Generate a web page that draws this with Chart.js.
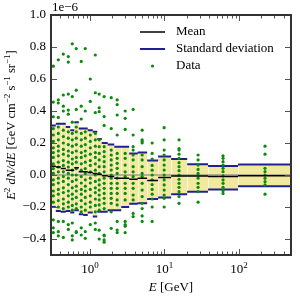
<!DOCTYPE html>
<html>
<head>
<meta charset="utf-8">
<script src="https://cdn.jsdelivr.net/npm/chart.js@4/dist/chart.umd.min.js"></script>
<style>
  html, body { margin: 0; padding: 0; background: #fff; }
  canvas { display: block; }
</style>
</head>
<body>
<canvas id="chart" width="300" height="300"></canvas>
<script>
// energy bins [GeV], flux values are in units of 1e-6
const binEdges = [0.3, 0.348, 0.406, 0.474, 0.544, 0.616, 0.708, 0.813, 0.934, 1.09, 1.253,
  1.44, 1.73, 2.12, 2.63, 3.36, 4.37, 5.86, 8.23, 12.3, 20.2, 38.5, 97.3, 500];
const binMean = [0.055, 0.05, 0.04, 0.03, 0.03, 0.045, 0.02, 0.02, 0.015, 0.01, 0.005,
  -0.005, -0.01, -0.02, -0.02, -0.027, -0.02, -0.035, -0.015, -0.006, -0.006, -0.01, -0.004];
const binUpper = [0.31, 0.32, 0.32, 0.30, 0.28, 0.33, 0.29, 0.29, 0.28, 0.27, 0.225,
  0.20, 0.19, 0.177, 0.177, 0.135, 0.14, 0.09, 0.115, 0.10, 0.067, 0.056, 0.065];
const binLower = [-0.20, -0.225, -0.23, -0.225, -0.235, -0.22, -0.245, -0.25, -0.235, -0.26, -0.23,
  -0.23, -0.22, -0.22, -0.20, -0.18, -0.177, -0.15, -0.14, -0.12, -0.105, -0.09, -0.07];

const dataEnergy = [0.322, 0.376, 0.439, 0.512, 0.579, 0.655, 0.764, 0.865, 1.01, 1.18, 1.33,
  1.55, 1.93, 2.32, 2.97, 3.80, 5.02, 6.84, 9.91, 15.7, 28.3, 61.2, 224];
const dataFlux = [
  [0.68, 0.456, 0.364, 0.29, 0.25, 0.21, 0.17, 0.14, 0.11, 0.07, 0.04, 0.01, -0.03, -0.06, -0.1, -0.13, -0.17, -0.28, -0.33, -0.36],
  [0.72, 0.47, 0.45, 0.36, 0.3, 0.26, 0.22, 0.18, 0.15, 0.12, 0.08, 0.05, 0.02, -0.02, -0.05, -0.09, -0.12, -0.16, -0.2, -0.29, -0.354, -0.38],
  [0.756, 0.5, 0.43, 0.40, 0.28, 0.24, 0.2, 0.16, 0.13, 0.09, 0.06, 0.02, -0.01, -0.04, -0.08, -0.11, -0.15, -0.18, -0.21, -0.29, -0.39],
  [0.74, 0.706, 0.506, 0.406, 0.38, 0.27, 0.23, 0.19, 0.15, 0.12, 0.08, 0.05, 0.01, -0.02, -0.06, -0.1, -0.13, -0.17, -0.2, -0.31, -0.34],
  [0.82, 0.49, 0.33, 0.26, 0.22, 0.18, 0.14, 0.1, 0.07, 0.03, 0.0, -0.04, -0.08, -0.12, -0.15, -0.19, -0.22, -0.3, -0.38, -0.406],
  [0.79, 0.53, 0.41, 0.3, 0.27, 0.23, 0.19, 0.15, 0.11, 0.08, 0.04, 0.0, -0.03, -0.07, -0.1, -0.14, -0.18, -0.21, -0.354, -0.36],
  [0.71, 0.43, 0.35, 0.26, 0.22, 0.18, 0.14, 0.11, 0.07, 0.03, -0.01, -0.05, -0.09, -0.12, -0.16, -0.2, -0.23, -0.33, -0.375],
  [0.79, 0.4, 0.27, 0.23, 0.19, 0.15, 0.12, 0.08, 0.04, 0.01, -0.03, -0.07, -0.1, -0.14, -0.18, -0.22, -0.354, -0.396],
  [0.60, 0.46, 0.25, 0.21, 0.17, 0.13, 0.09, 0.06, 0.02, -0.02, -0.05, -0.09, -0.13, -0.17, -0.2, -0.31],
  [0.75, 0.514, 0.39, 0.26, 0.22, 0.18, 0.14, 0.11, 0.07, 0.03, 0.0, -0.04, -0.08, -0.11, -0.15, -0.19, -0.23, -0.3, -0.34],
  [0.506, 0.42, 0.396, 0.22, 0.177, 0.135, 0.094, 0.052, 0.01, -0.031, -0.062, -0.094, -0.125, -0.156, -0.187, -0.22, -0.345, -0.40],
  [0.49, 0.365, 0.31, 0.177, 0.146, 0.115, 0.083, 0.052, 0.02, -0.02, -0.052, -0.083, -0.115, -0.146, -0.177, -0.21, -0.375, -0.38, -0.406, -0.42],
  [0.483, 0.29, 0.156, 0.125, 0.094, 0.062, 0.031, 0.0, -0.02, -0.052, -0.083, -0.115, -0.146, -0.177, -0.23, -0.333],
  [0.47, 0.44, 0.375, 0.25, 0.135, 0.104, 0.073, 0.042, 0.01, -0.02, -0.052, -0.083, -0.115, -0.156, -0.187, -0.29, -0.344, -0.36],
  [0.40, 0.354, 0.285, 0.135, 0.104, 0.062, 0.02, -0.01, -0.052, -0.083, -0.115, -0.156, -0.29, -0.31, -0.32, -0.36],
  [0.41, 0.25, 0.177, 0.156, 0.125, 0.094, 0.052, 0.02, -0.01, -0.052, -0.083, -0.125, -0.156, -0.24, -0.26],
  [0.28, 0.22, 0.21, 0.2, 0.125, 0.094, 0.052, 0.01, -0.01, -0.052, -0.094, -0.135, -0.177, -0.21, -0.256, -0.29],
  [0.2, 0.135, 0.1, 0.06, 0.03, 0.0, -0.03, -0.06, -0.09, -0.12, -0.15, -0.2, -0.29],
  [0.296, 0.22, 0.156, 0.125, 0.094, 0.062, 0.031, 0.0, -0.031, -0.062, -0.094, -0.125, -0.146, -0.2],
  [0.22, 0.165, 0.156, 0.13, 0.104, 0.077, 0.052, 0.027, 0.0, -0.027, -0.052, -0.077, -0.104, -0.135, -0.177],
  [0.125, 0.094, 0.062, 0.035, 0.01, -0.02, -0.052, -0.077, -0.104, -0.17],
  [0.12, 0.104, 0.083, 0.062, 0.042, 0.021, -0.006, -0.031, -0.052, -0.077, -0.098, -0.115],
  [0.18, 0.13, 0.042, 0.021, 0.0, -0.021, -0.042, -0.062, -0.12]
];

const xDecades = [1, 10, 100];
const xLimits = [0.3, 500];
const yLimits = [-0.5, 1.0];

const FONT = "'Liberation Serif', 'DejaVu Serif', serif";
const BLUE = '#202090';
const GREEN = '#0b8a0b';

// build step datasets from the bins
const bandTop = [], bandBottom = [], upperSeg = [], lowerSeg = [], meanSeg = [];
binMean.forEach((m, i) => {
  const lo = binEdges[i], hi = binEdges[i + 1];
  bandTop.push({ x: lo, y: binUpper[i] }, { x: hi, y: binUpper[i] });
  bandBottom.push({ x: lo, y: binLower[i] }, { x: hi, y: binLower[i] });
  upperSeg.push({ x: lo, y: binUpper[i] }, { x: hi, y: binUpper[i] }, { x: hi, y: null });
  lowerSeg.push({ x: lo, y: binLower[i] }, { x: hi, y: binLower[i] }, { x: hi, y: null });
  meanSeg.push({ x: lo, y: m }, { x: hi, y: m }, { x: hi, y: null });
});
const points = dataEnergy.flatMap((e, i) => dataFlux[i].map(f => ({ x: e, y: f })));

function partFont(kind, size) {
  const s = kind === 's' ? Math.round(size * 0.7) : size;
  return (kind === 'i' ? 'italic ' : '') + s + 'px ' + FONT;
}
function richWidth(ctx, parts, size) {
  let w = 0;
  parts.forEach(([t, k]) => { ctx.font = partFont(k, size); w += ctx.measureText(t).width; });
  return w;
}
function drawRich(ctx, parts, x, y, size) {
  let cx = x;
  parts.forEach(([t, k]) => {
    ctx.font = partFont(k, size);
    ctx.fillText(t, cx, k === 's' ? y - size * 0.42 : y);
    cx += ctx.measureText(t).width;
  });
}

const decorations = {
  id: 'decorations',
  beforeDatasetsDraw(chart) {
    // pale edges between the bars of the band
    const { ctx } = chart;
    const xs = chart.scales.x, ys = chart.scales.y;
    ctx.save();
    ctx.strokeStyle = 'rgba(255,255,255,0.6)';
    ctx.lineWidth = 1;
    for (let i = 1; i < binMean.length; i++) {
      const px = Math.round(xs.getPixelForValue(binEdges[i])) + 0.5;
      ctx.beginPath();
      ctx.moveTo(px, ys.getPixelForValue(Math.min(binUpper[i - 1], binUpper[i])));
      ctx.lineTo(px, ys.getPixelForValue(Math.max(binLower[i - 1], binLower[i])));
      ctx.stroke();
    }
    ctx.restore();
  },
  afterDraw(chart) {
    const { ctx, chartArea: a } = chart;
    const xs = chart.scales.x, ys = chart.scales.y;
    ctx.save();
    ctx.fillStyle = '#000';
    ctx.textBaseline = 'alphabetic';

    // inward tick marks on all four sides
    ctx.strokeStyle = '#555';
    ctx.lineWidth = 1;
    const tick = (x1, y1, x2, y2) => { ctx.beginPath(); ctx.moveTo(x1, y1); ctx.lineTo(x2, y2); ctx.stroke(); };
    for (let k = -1; k <= 2; k++) {
      for (let m = 1; m <= 9; m++) {
        const v = m * Math.pow(10, k);
        if (v < xLimits[0] || v > xLimits[1]) continue;
        const px = Math.round(xs.getPixelForValue(v)) + 0.5;
        const len = m === 1 ? 6 : 3.5;
        tick(px, a.bottom, px, a.bottom - len);
        tick(px, a.top, px, a.top + len);
      }
    }
    ys.ticks.forEach(t => {
      if (Math.abs(t.value / 0.2 - Math.round(t.value / 0.2)) > 1e-6) return;
      const py = Math.round(ys.getPixelForValue(t.value)) + 0.5;
      tick(a.left, py, a.left + 6, py);
      tick(a.right, py, a.right - 6, py);
    });

    // frame
    ctx.strokeStyle = '#333';
    ctx.lineWidth = 2;
    ctx.strokeRect(a.left, a.top, a.right - a.left, a.bottom - a.top);

    // x decade labels
    const size = 13;
    xDecades.forEach(d => {
      const parts = [['10', 'r'], [String(Math.round(Math.log10(d))), 's']];
      const w = richWidth(ctx, parts, size);
      drawRich(ctx, parts, xs.getPixelForValue(d) - w / 2, a.bottom + 18, size);
    });

    // axis titles
    const xt = [['E', 'i'], [' [GeV]', 'r']];
    drawRich(ctx, xt, (a.left + a.right) / 2 - richWidth(ctx, xt, size) / 2, a.bottom + 36, size);

    const yt = [['E', 'i'], ['2', 's'], [' dN/dE', 'i'], [' [GeV cm', 'r'], ['\u22122', 's'],
      [' s', 'r'], ['\u22121', 's'], [' sr', 'r'], ['\u22121', 's'], [']', 'r']];
    const ysize = 12.5;
    ctx.save();
    ctx.translate(15, a.top + 110);
    ctx.rotate(-Math.PI / 2);
    drawRich(ctx, yt, -richWidth(ctx, yt, ysize) / 2, 0, ysize);
    ctx.restore();

    // offset text
    ctx.font = size + 'px ' + FONT;
    ctx.fillText('1e\u22126', a.left + 1, a.top - 4);

    // legend
    const lx0 = a.right - 151, lx1 = a.right - 126, tx = a.right - 115;
    const rows = [
      ['Mean', () => { ctx.strokeStyle = '#000'; ctx.lineWidth = 1.5; }],
      ['Standard deviation', () => { ctx.strokeStyle = BLUE; ctx.lineWidth = 2; }],
      ['Data', null]
    ];
    rows.forEach(([label, style], i) => {
      const ly = a.top + 17 + i * 17;
      if (style) {
        style();
        ctx.beginPath(); ctx.moveTo(lx0, ly); ctx.lineTo(lx1, ly); ctx.stroke();
      } else {
        ctx.fillStyle = GREEN;
        ctx.beginPath(); ctx.arc((lx0 + lx1) / 2, ly, 1.6, 0, Math.PI * 2); ctx.fill();
      }
      ctx.fillStyle = '#000';
      ctx.font = size + 'px ' + FONT;
      ctx.textBaseline = 'middle';
      ctx.fillText(label, tx, ly);
      ctx.textBaseline = 'alphabetic';
    });
    ctx.restore();
  }
};

new Chart(document.getElementById('chart'), {
  type: 'scatter',
  data: {
    datasets: [
      { data: meanSeg, showLine: true, borderColor: '#000', borderWidth: 1.5, pointRadius: 0, order: 0 },
      { data: points, backgroundColor: GREEN, borderWidth: 0, pointRadius: 1.6, order: 1 },
      { data: upperSeg, showLine: true, borderColor: BLUE, borderWidth: 2, pointRadius: 0, order: 2 },
      { data: lowerSeg, showLine: true, borderColor: BLUE, borderWidth: 2, pointRadius: 0, order: 2 },
      { data: [{ x: xLimits[0], y: 0 }, { x: xLimits[1], y: 0 }], showLine: true, borderColor: '#9a9a9a', borderWidth: 1.5, pointRadius: 0, order: 3 },
      { data: bandTop, showLine: true, borderWidth: 0, borderColor: 'rgba(0,0,0,0)', pointRadius: 0,
        fill: '+1', backgroundColor: 'rgba(238,226,130,0.75)', order: 4 },
      { data: bandBottom, showLine: true, borderWidth: 0, borderColor: 'rgba(0,0,0,0)', pointRadius: 0, order: 5 }
    ]
  },
  options: {
    responsive: false,
    animation: false,
    events: [],
    devicePixelRatio: 1,
    layout: { padding: { top: 15, right: 9, left: 0, bottom: 0 } },
    plugins: {
      legend: { display: false },
      tooltip: { enabled: false },
      filler: { drawTime: 'beforeDatasetsDraw', propagate: false }
    },
    scales: {
      x: {
        type: 'logarithmic', min: xLimits[0], max: xLimits[1],
        afterFit: s => { s.height = 45; },
        grid: { display: false, drawTicks: false },
        border: { display: false },
        ticks: { display: false }
      },
      y: {
        min: yLimits[0], max: yLimits[1],
        afterFit: s => { s.width = 51; },
        grid: { display: false, drawTicks: false },
        border: { display: false },
        ticks: {
          stepSize: 0.2, includeBounds: false, padding: 5, color: '#000',
          font: { family: FONT, size: 13 },
          callback: v => {
            if (Math.abs(v / 0.2 - Math.round(v / 0.2)) > 1e-6) return '';
            const r = Math.abs(v) < 1e-9 ? 0 : v;
            return r.toFixed(1).replace('-', '\u2212');
          }
        }
      }
    }
  },
  plugins: [decorations]
});
</script>
</body>
</html>
